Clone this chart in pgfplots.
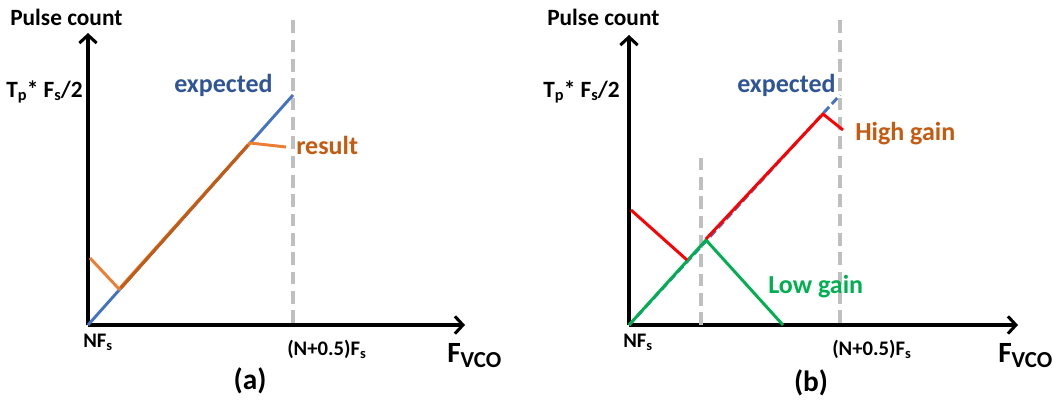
\documentclass[border=0pt]{standalone}
\usepackage{pgfplots}
\pgfplotsset{compat=1.18}
\usepackage{fontspec}
\setmainfont{Carlito}
\usetikzlibrary{arrows.meta}

\definecolor{expblue}{HTML}{4472C4}
\definecolor{exptext}{HTML}{2F5597}
\definecolor{resorange}{HTML}{ED7D31}
\definecolor{resbrown}{HTML}{C55A11}
\definecolor{lowgreen}{HTML}{00B050}
\definecolor{highred}{HTML}{FF0000}
\definecolor{guide}{HTML}{BFBFBF}

\newcommand{\ann}{\bfseries\fontsize{19.5}{23}\selectfont}
\newcommand{\lbl}{\bfseries\fontsize{17.5}{21}\selectfont}
\newcommand{\tck}{\bfseries\fontsize{15.5}{18}\selectfont}
\newcommand{\axname}{\bfseries\fontsize{22}{26}\selectfont}
\newcommand{\sub}[1]{\raisebox{-0.35ex}{\fontsize{0.7em}{1em}\selectfont #1}}
\newcommand{\bigsub}[1]{\raisebox{-0.4ex}{\fontsize{0.78em}{1em}\selectfont #1}}

\pgfplotsset{
  sketch/.style={
    x=0.75pt, y=0.75pt,
    anchor=south west,
    axis lines=left,
    axis line style={line width=2.3pt, -{Straight Barb[length=6pt,width=13pt]}},
    xtick=\empty, ytick=\empty,
    clip=false,
  },
  guideline/.style={guide, line width=3pt, dash pattern=on 9.5pt off 5pt},
  curve/.style={line width=2.2pt},
}

\begin{document}
\begin{tikzpicture}
\useasboundingbox (0,0) rectangle (789.75pt,300.75pt);

% ---------- (a) ----------
\begin{axis}[sketch, at={(66pt,57pt)}, xmin=0, xmax=377, ymin=0, ymax=292]
  \addplot[guideline] coordinates {(205,2) (205,305)};
  \addplot[curve, expblue] coordinates {(0,0) (205,230)};
  \addplot[curve, resorange] coordinates {(2,67) (31,36) (162,182) (198,178)};
  \addplot[curve, resbrown] coordinates {(33,37) (160,180)};

  \node[anchor=west, inner sep=0] at (axis cs:-78,308) {\lbl Pulse count};
  \node[anchor=base east, inner sep=0] at (axis cs:-5,228) {\lbl T\sub{p}* F\sub{s}/2};
  \node[anchor=base west, inner sep=0, text=exptext] at (axis cs:86,233) {\ann expected};
  \node[anchor=base west, inner sep=0, text=resbrown] at (axis cs:208,171) {\ann result};
  \node[anchor=base west, inner sep=0] at (axis cs:-5,-22) {\tck NF\sub{s}};
  \node[anchor=base west, inner sep=0] at (axis cs:199,-30) {\tck (N+0.5)F\sub{s}};
  \node[anchor=base west, inner sep=0] at (axis cs:359,-37) {\axname F\bigsub{VCO}};
  \node[inner sep=0] at (axis cs:162,-56) {\axname (a)};
\end{axis}

% ---------- (b) ----------
\begin{axis}[sketch, at={(471.75pt,57pt)}, xmin=0, xmax=389, ymin=0, ymax=290]
  \addplot[guideline] coordinates {(211,2) (211,305)};
  \addplot[guideline] coordinates {(72,0) (72,173)};
  \addplot[curve, expblue, dash pattern=on 6pt off 3pt] coordinates {(0,0) (211,230)};
  \addplot[curve, lowgreen] coordinates {(0,0) (77,85) (154,0)};
  \addplot[curve, highred] coordinates {(2,115) (58,65)};
  \addplot[curve, highred] coordinates {(77,86) (194,211) (214,195)};

  \node[anchor=west, inner sep=0] at (axis cs:-82,308) {\lbl Pulse count};
  \node[anchor=base east, inner sep=0] at (axis cs:-9,228) {\lbl T\sub{p}* F\sub{s}/2};
  \node[anchor=base west, inner sep=0, text=exptext] at (axis cs:108,233) {\ann expected};
  \node[anchor=base west, inner sep=0, text=resbrown] at (axis cs:226,185) {\ann High gain};
  \node[anchor=base west, inner sep=0, text=lowgreen] at (axis cs:139,32) {\ann Low gain};
  \node[anchor=base west, inner sep=0] at (axis cs:-6,-22) {\tck NF\sub{s}};
  \node[anchor=base west, inner sep=0] at (axis cs:203,-30) {\tck (N+0.5)F\sub{s}};
  \node[anchor=base west, inner sep=0] at (axis cs:369,-37) {\axname F\bigsub{VCO}};
  \node[inner sep=0] at (axis cs:182,-58) {\axname (b)};
\end{axis}
\end{tikzpicture}
\end{document}
